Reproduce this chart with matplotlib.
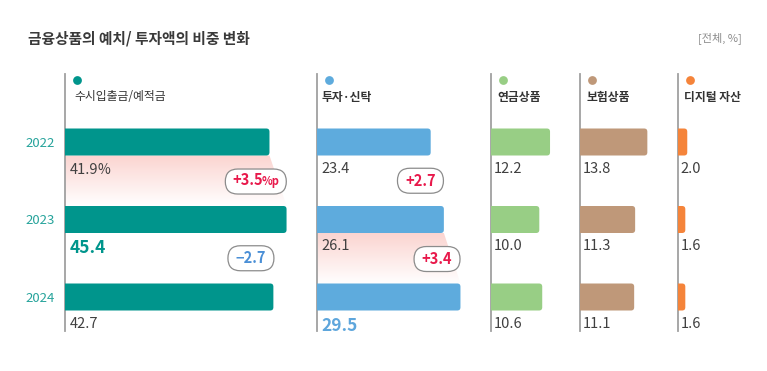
import matplotlib
matplotlib.use('Agg')
import matplotlib.pyplot as plt
import numpy as np
from matplotlib.patches import FancyBboxPatch, Polygon
from matplotlib.transforms import ScaledTranslation, offset_copy

plt.rcParams['font.family'] = ['Noto Sans CJK KR', 'DejaVu Sans']

# --- data ---
title = '금융상품의 예치/ 투자액의 비중 변화'
unit_label = '[전체, %]'
years = ['2022', '2023', '2024']
categories = ['수시입출금/예적금', '투자·신탁', '연금상품', '보험상품', '디지털 자산']
deposit = [41.9, 45.4, 42.7]
invest = [23.4, 26.1, 29.5]
pension = [12.2, 10.0, 10.6]
insurance = [13.8, 11.3, 11.1]
digital = [2.0, 1.6, 1.6]
series = [deposit, invest, pension, insurance, digital]

# year index shown large/bold per column (None = none)
highlight = [1, 2, None, None, None]
# change badges: (column, from-year index)
badges = [(0, 0), (0, 1), (1, 0), (1, 1)]
# shaded change bands: (column, from-year index)
bands = [(0, 0), (1, 1)]

# --- style / layout ---
colors = ['#00958c', '#5eabdd', '#98ce85', '#bf9879', '#f5843a']
value_colors = ['#00958c', '#5ea6dc']
year_color = '#26a39b'
text_color = '#404040'
up_color = '#e8194b'
down_color = '#4a8fd6'

W, H = 767, 371
PX = 4.88                      # pixels per percent
col_left = [65, 316.5, 490.5, 580, 677.5]
col_right = [316.5, 490.5, 580, 677.5, 765]
ax_top, ax_bot = 74, 331
row_px = 77.5
row0_px = 142
bar_h = 27 / row_px
label_pad = [5, 5, 3, 3, 3]
legend_pad = [9, 5, 7, 7, 7]
badge_pos = [(39.1, 0.51), (38.1, 1.50), (21.3, 0.50), (24.7, 1.51)]

fig = plt.figure(figsize=(W / 100, H / 100), dpi=100)
fig.patch.set_facecolor('white')
renderer = fig.canvas.get_renderer()


def with_suffix(ax, x, y, main, suffix, size, ssize, color, weight, ha='left',
                gap=-1.5, zorder=5):
    """Draw main text followed by a smaller suffix on the same baseline."""
    t = ax.text(x, y, main, ha='left', va='baseline', fontsize=size, color=color,
                fontweight=weight, zorder=zorder)
    s = ax.text(x, y, suffix, ha='left', va='baseline', fontsize=ssize, color=color,
                fontweight=weight, zorder=zorder)
    w1 = t.get_window_extent(renderer).width
    w2 = s.get_window_extent(renderer).width
    shift = 0 if ha == 'left' else -(w1 + w2 + gap) / 2
    t.set_transform(offset_copy(ax.transData, fig=fig, x=shift, y=0, units='dots'))
    s.set_transform(offset_copy(ax.transData, fig=fig, x=shift + w1 + gap, y=0, units='dots'))
    return t, s


fig.text(28 / W, 1 - 38 / H, title, ha='left', va='center',
         fontsize=10.6, fontweight='bold', color='#3a3a3a')
fig.text(742 / W, 1 - 38 / H, unit_label, ha='right', va='center',
         fontsize=8, color='#8a8a8a')

axes = []
for c, vals in enumerate(series):
    l, r = col_left[c], col_right[c]
    ax = fig.add_axes([l / W, 1 - ax_bot / H, (r - l) / W, (ax_bot - ax_top) / H])
    xmax = (r - l) / PX
    ylo = (ax_top - row0_px) / row_px
    yhi = (ax_bot - row0_px) / row_px
    ax.set_xlim(0, xmax)
    ax.set_ylim(yhi, ylo)
    for s in ['top', 'right', 'bottom']:
        ax.spines[s].set_visible(False)
    ax.spines['left'].set_color('#a0a0a0')
    ax.spines['left'].set_linewidth(1.3)
    ax.set_xticks([])
    if c == 0:
        ax.set_yticks(range(len(years)))
        ax.set_yticklabels(years, color=year_color, fontsize=9.5)
        ax.tick_params(axis='y', length=0, pad=7)
    else:
        ax.set_yticks([])
    ax.patch.set_alpha(0)

    # bars with rounded right end
    for i, v in enumerate(vals):
        bar = FancyBboxPatch((-2, i - bar_h / 2), v + 2, bar_h,
                             boxstyle='round,pad=0,rounding_size=0.65',
                             mutation_aspect=PX / row_px,
                             fc=colors[c], ec='none', zorder=3)
        ax.add_patch(bar)
        bar.set_clip_path(ax.patch)

        lx = label_pad[c] / PX
        ly = i + (27 / row_px)
        if highlight[c] == i:
            ax.text(lx, ly + 0.02, f'{v:.1f}', ha='left', va='center',
                    fontsize=12.5, fontweight='bold', color=value_colors[c], zorder=5)
        elif c == 0 and i == 0:
            with_suffix(ax, lx, ly + 0.07, f'{v:.1f}', '%', 10.5, 10,
                        text_color, 'normal', gap=-1.0)
        else:
            ax.text(lx, ly, f'{v:.1f}', ha='left', va='center',
                    fontsize=10.5, color=text_color, zorder=5)

    # legend dot + name
    ax.scatter([12 / PX], [(80 - row0_px) / row_px], s=40, color=colors[c],
               zorder=5, clip_on=False, linewidths=0)
    ax.text(legend_pad[c] / PX, (97 - row0_px) / row_px, categories[c],
            ha='left', va='center', fontsize=8.5, color='#333333',
            fontweight='normal' if c == 0 else 'bold')
    axes.append(ax)

# gradient bands between bars
grad = np.ones((256, 1, 4))
pink = np.array([251, 212, 208]) / 255
tt = np.linspace(0, 1, 256)[:, None]
grad[:, 0, :3] = pink * (1 - tt) + np.ones(3) * tt
for c, i in bands:
    ax = axes[c]
    vals = series[c]
    y0 = i + bar_h / 2
    y1 = i + 1 - bar_h / 2
    poly = Polygon([(0, y0), (vals[i], y0), (vals[i + 1], y1), (0, y1)],
                   closed=True, fc='none', ec='none')
    ax.add_patch(poly)
    xl = ax.get_xlim()
    yl = ax.get_ylim()
    im = ax.imshow(grad, extent=(0, max(vals[i], vals[i + 1]), y1, y0),
                   origin='upper', aspect='auto', zorder=1, interpolation='bilinear')
    im.set_clip_path(poly)
    ax.set_xlim(xl)
    ax.set_ylim(yl)

# change badges
for k, (c, i) in enumerate(badges):
    ax = axes[c]
    vals = series[c]
    d = round(vals[i + 1] - vals[i], 1)
    col = up_color if d > 0 else down_color
    txt = ('+' if d > 0 else '\u2212') + f'{abs(d):.1f}'
    bx, by = badge_pos[k]
    with_unit = (c == 0 and i == 0)
    bw = 0.61 if with_unit else 0.46
    bh = 0.25
    tr = fig.dpi_scale_trans + ScaledTranslation(bx, by, ax.transData)
    box = FancyBboxPatch((-bw / 2, -bh / 2), bw, bh,
                         boxstyle=f'round,pad=0,rounding_size={bh / 2}',
                         fc='white', ec='#8c8c8c', lw=0.9, transform=tr,
                         zorder=6, clip_on=False)
    ax.add_patch(box)
    if with_unit:
        with_suffix(ax, bx, by + 0.05, txt, '%p', 10.5, 8, col, 'bold',
                    ha='center', gap=-1.5, zorder=7)
    else:
        ax.text(bx, by, txt, ha='center', va='center', fontsize=10.5, color=col,
                fontweight='bold', zorder=7)

fig.savefig('out.png', dpi=100, facecolor='white')
